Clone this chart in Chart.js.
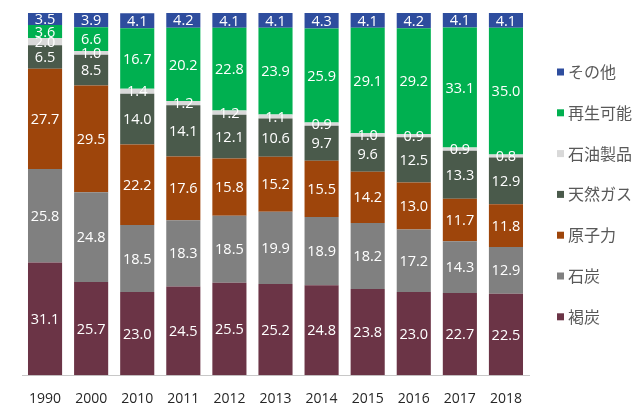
<!DOCTYPE html>
<html>
<head>
<meta charset="utf-8">
<script src="https://cdn.jsdelivr.net/npm/chart.js@4.4.1/dist/chart.umd.min.js"></script>
<style>
  html, body { margin: 0; padding: 0; background: #fff; }
  #wrap { width: 640px; height: 410px; }
</style>
</head>
<body>
<div id="wrap"><canvas id="chart" width="640" height="410"></canvas></div>
<script>
const years = ['1990', '2000', '2010', '2011', '2012', '2013', '2014', '2015', '2016', '2017', '2018']

// bottom to top
const lignite    = [31.1, 25.7, 23.0, 24.5, 25.5, 25.2, 24.8, 23.8, 23.0, 22.7, 22.5]
const hardCoal   = [25.8, 24.8, 18.5, 18.3, 18.5, 19.9, 18.9, 18.2, 17.2, 14.3, 12.9]
const nuclear    = [27.7, 29.5, 22.2, 17.6, 15.8, 15.2, 15.5, 14.2, 13.0, 11.7, 11.8]
const gas        = [6.5, 8.5, 14.0, 14.1, 12.1, 10.6, 9.7, 9.6, 12.5, 13.3, 12.9]
const oil        = [2.0, 1.0, 1.4, 1.2, 1.2, 1.1, 0.9, 1.0, 0.9, 0.9, 0.8]
const renewables = [3.6, 6.6, 16.7, 20.2, 22.8, 23.9, 25.9, 29.1, 29.2, 33.1, 35.0]
const other      = [3.5, 3.9, 4.1, 4.2, 4.1, 4.1, 4.3, 4.1, 4.2, 4.1, 4.1]

const series = [
  { label: '褐炭', data: lignite, color: '#6b3446' },
  { label: '石炭', data: hardCoal, color: '#808080' },
  { label: '原子力', data: nuclear, color: '#9e450b' },
  { label: '天然ガス', data: gas, color: '#4a5a4b' },
  { label: '石油製品', data: oil, color: '#d9d9d9' },
  { label: '再生可能', data: renewables, color: '#00b050' },
  { label: 'その他', data: other, color: '#2e4d9e' }
]

// value labels centred in each segment
const segmentLabels = {
  id: 'segmentLabels',
  afterDatasetsDraw(chart) {
    const ctx = chart.ctx
    ctx.save()
    ctx.font = '14.5px "Open Sans", "Liberation Sans", sans-serif'
    ctx.fillStyle = '#ffffff'
    ctx.textAlign = 'center'
    ctx.textBaseline = 'middle'
    chart.data.datasets.forEach((ds, i) => {
      chart.getDatasetMeta(i).data.forEach((bar, j) => {
        const { x, y, base } = bar.getProps(['x', 'y', 'base'], true)
        ctx.fillText(ds.data[j].toFixed(1), x, (y + base) / 2 + 1)
      })
    })
    ctx.restore()
  }
}

// legend on the right, top item first
const sideLegend = {
  id: 'sideLegend',
  afterDraw(chart) {
    const ctx = chart.ctx
    ctx.save()
    ctx.font = '16px "Noto Sans CJK JP", sans-serif'
    ctx.textBaseline = 'middle'
    const items = chart.data.datasets.slice().reverse()
    const x0 = 557, y0 = 72, step = 40.8
    items.forEach((ds, k) => {
      const y = y0 + k * step
      ctx.fillStyle = ds.backgroundColor
      ctx.fillRect(x0, y - 3.5, 7, 7)
      ctx.fillStyle = '#595959'
      ctx.fillText(ds.label, x0 + 11, y)
    })
    ctx.restore()
  }
}

new Chart(document.getElementById('chart').getContext('2d'), {
  type: 'bar',
  data: {
    labels: years,
    datasets: series.map(s => ({
      label: s.label,
      data: s.data,
      backgroundColor: s.color,
      borderWidth: 0,
      barPercentage: 0.74,
      categoryPercentage: 1.0
    }))
  },
  options: {
    responsive: false,
    animation: false,
    layout: { padding: { left: 22, right: 111, top: 13, bottom: -12 } },
    plugins: {
      legend: { display: false },
      tooltip: { enabled: false }
    },
    scales: {
      x: {
        stacked: true,
        grid: { display: false, drawTicks: false },
        border: { display: true, color: '#c8c8c8', width: 1 },
        ticks: {
          color: '#262626',
          padding: 15,
          font: { family: '"Open Sans", "Liberation Sans", sans-serif', size: 14 }
        }
      },
      y: {
        stacked: true,
        display: false,
        min: 0,
        max: 100
      }
    }
  },
  plugins: [segmentLabels, sideLegend]
})
</script>
</body>
</html>
